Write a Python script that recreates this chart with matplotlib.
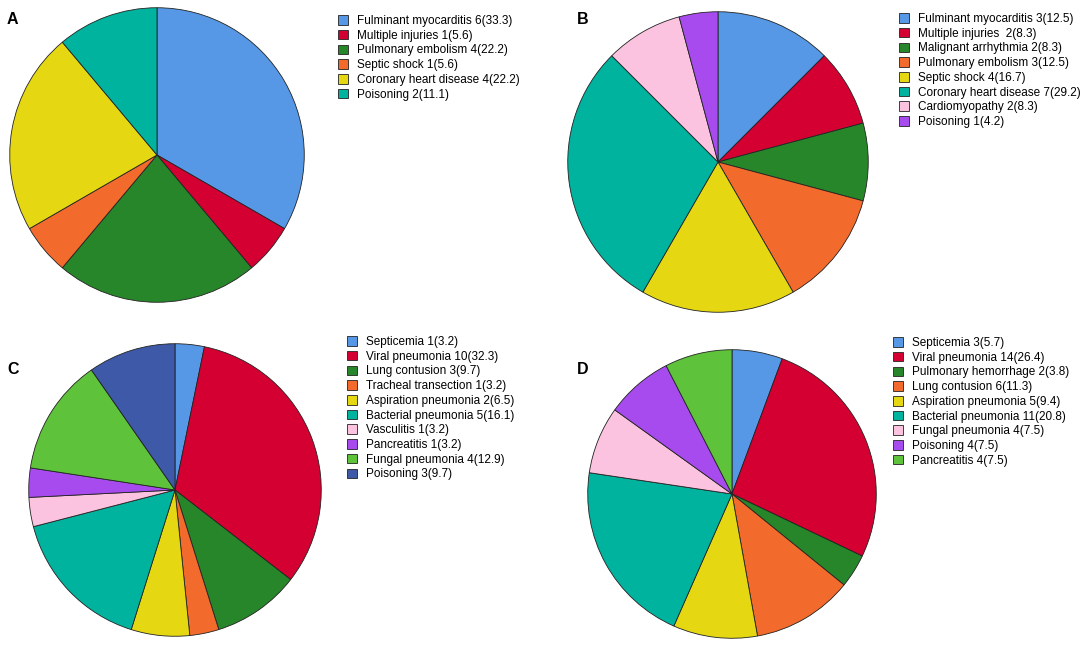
import matplotlib
matplotlib.use('Agg')
from matplotlib import pyplot as plt

plt.rcParams['font.family'] = ['Liberation Sans', 'DejaVu Sans']

# shared palette, slices take the first n colours
palette = ['#5698E5', '#D50032', '#28862A', '#F26A2C', '#E5D813',
           '#00B39E', '#FCC3E0', '#A84BEE', '#5EC23A', '#3D59A8']

a_labels = ['Fulminant myocarditis 6(33.3)', 'Multiple injuries 1(5.6)',
            'Pulmonary embolism 4(22.2)', 'Septic shock 1(5.6)',
            'Coronary heart disease 4(22.2)', 'Poisoning 2(11.1)']
a_values = [6, 1, 4, 1, 4, 2]

b_labels = ['Fulminant myocarditis 3(12.5)', 'Multiple injuries  2(8.3)',
            'Malignant arrhythmia 2(8.3)', 'Pulmonary embolism 3(12.5)',
            'Septic shock 4(16.7)', 'Coronary heart disease 7(29.2)',
            'Cardiomyopathy 2(8.3)', 'Poisoning 1(4.2)']
b_values = [3, 2, 2, 3, 4, 7, 2, 1]

c_labels = ['Septicemia 1(3.2)', 'Viral pneumonia 10(32.3)',
            'Lung contusion 3(9.7)', 'Tracheal transection 1(3.2)',
            'Aspiration pneumonia 2(6.5)', 'Bacterial pneumonia 5(16.1)',
            'Vasculitis 1(3.2)', 'Pancreatitis 1(3.2)',
            'Fungal pneumonia 4(12.9)', 'Poisoning 3(9.7)']
c_values = [1, 10, 3, 1, 2, 5, 1, 1, 4, 3]

d_labels = ['Septicemia 3(5.7)', 'Viral pneumonia 14(26.4)',
            'Pulmonary hemorrhage 2(3.8)', 'Lung contusion 6(11.3)',
            'Aspiration pneumonia 5(9.4)', 'Bacterial pneumonia 11(20.8)',
            'Fungal pneumonia 4(7.5)', 'Poisoning 4(7.5)',
            'Pancreatitis 4(7.5)']
d_values = [3, 14, 2, 6, 5, 11, 4, 4, 4]

W, H = 1084, 648
fig = plt.figure(figsize=(W / 100, H / 100), dpi=100)

# (letter, values, labels, pie centre px, radius px, letter pos px, legend anchor px)
panels = [
    ('A', a_values, a_labels, (157, 155), 148, (7, 12), (338, 15)),
    ('B', b_values, b_labels, (718, 162), 151, (577, 12), (899, 13)),
    ('C', c_values, c_labels, (175, 490), 147, (7, 362), (347, 336)),
    ('D', d_values, d_labels, (732, 494), 145, (577, 362), (893, 337)),
]

for letter, values, labels, (cx, cy), r, (lx, ly), (gx, gy) in panels:
    ax = fig.add_axes([(cx - r) / W, (H - cy - r) / H, 2 * r / W, 2 * r / H])
    wedges, _ = ax.pie(values, colors=palette[:len(values)], startangle=90,
                       counterclock=False,
                       wedgeprops=dict(edgecolor='#222222', linewidth=0.6))
    ax.set_xlim(-1.005, 1.005)
    ax.set_ylim(-1.005, 1.005)
    ax.set_aspect('auto')
    ax.axis('off')
    fig.text(lx / W, 1 - ly / H, letter, fontsize=11.5, fontweight='bold',
             va='top', ha='left')
    fig.legend(wedges, labels, loc='upper left',
               bbox_to_anchor=(gx / W, 1 - gy / H), bbox_transform=fig.transFigure,
               frameon=False, fontsize=8.5, borderpad=0, borderaxespad=0,
               handlelength=0.88, handleheight=0.88, handletextpad=0.7,
               labelspacing=0.23)

fig.savefig('out.png', dpi=100)
